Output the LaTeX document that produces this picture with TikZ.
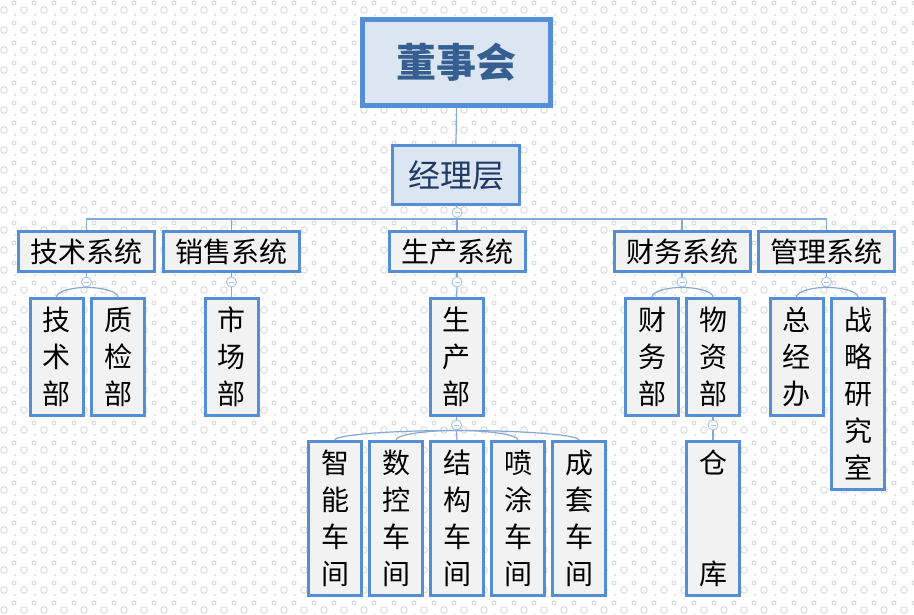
\documentclass[tikz,border=0pt]{standalone}
\usepackage{fontspec}
\usetikzlibrary{calc}
\setmainfont{Noto Sans CJK SC}
\definecolor{bord}{RGB}{85,142,213}
\definecolor{topfill}{RGB}{220,230,242}
\definecolor{boxfill}{RGB}{242,242,242}
\definecolor{conn}{RGB}{132,168,218}
\definecolor{knobc}{RGB}{170,195,232}
\definecolor{bgc}{RGB}{212,212,212}
\definecolor{toptext}{RGB}{54,95,145}
\definecolor{midtext}{RGB}{31,56,100}
\tikzset{
  topbox/.style={draw=bord, fill=topfill, line width=5pt, minimum width=188pt, minimum height=86pt, inner sep=0pt,
    text=toptext, font=\fontsize{40pt}{48pt}\selectfont\bfseries},
  midbox/.style={draw=bord, fill=topfill, line width=3pt, minimum width=127pt, minimum height=59pt, inner sep=0pt,
    text=midtext, font=\fontsize{32pt}{38pt}\selectfont},
  sysbox/.style={draw=bord, fill=boxfill, line width=3pt, minimum width=136pt, minimum height=40pt, inner sep=0pt,
    text=black, font=\fontsize{28pt}{34pt}\selectfont},
  vbox/.style={draw=bord, fill=boxfill, line width=3pt, minimum width=53pt, inner sep=0pt, align=center,
    text=black, font=\fontsize{28pt}{37pt}\selectfont},
  conline/.style={draw=conn, line width=1.2pt},
  knob/.style={circle, draw=knobc, fill=white, line width=0.9pt, minimum size=10pt, inner sep=0pt,
    path picture={\draw[knobc, line width=0.9pt] ([xshift=-2.5pt]path picture bounding box.center) -- ([xshift=2.5pt]path picture bounding box.center);}},
  bgring/.style={draw=bgc, line width=0.8pt}
}
% arch from knob #1 to child #2
\newcommand{\archto}[2]{%
  \draw[conline] (#1.south) .. controls ($(#1.south)!0.55!(#2.north |- #1.south)$) and ($(#2.north)+(0,-5)$) .. (#2.north);}
\begin{document}
\begin{tikzpicture}[x=1pt,y=-1pt]
\useasboundingbox (0,0) rectangle (914,615);
\fill[white] (0,0) rectangle (914,615);
\begin{scope}
\clip (0,0) rectangle (914,615);
\foreach \i in {0,...,46} {
  \foreach \j in {0,...,31} {
    \draw[bgring] (\i*20+4,\j*20+10) circle (3.3);
    \draw[bgring] (\i*20+14,\j*20+3) circle (2);
    \fill[bgc] (\i*20+15,\j*20+15) circle (1);
  }
}
\end{scope}

% nodes
\node[topbox] (dsh) at (456.5,62.5) {董事会};
\node[midbox] (jlc) at (456,175) {经理层};

\node[sysbox] (s1) at (86.5,251.5) {技术系统};
\node[sysbox] (s2) at (231.5,251.5) {销售系统};
\node[sysbox] (s3) at (457,251.5) {生产系统};
\node[sysbox] (s4) at (682,251.5) {财务系统};
\node[sysbox] (s5) at (826.5,251.5) {管理系统};

\node[vbox, minimum height=117pt] (d1) at (56.5,357) {技\\术\\部};
\node[vbox, minimum height=117pt] (d2) at (118,357) {质\\检\\部};
\node[vbox, minimum height=117pt] (d3) at (231.5,357) {市\\场\\部};
\node[vbox, minimum height=117pt] (d4) at (456.5,357) {生\\产\\部};
\node[vbox, minimum height=117pt] (d5) at (652,357) {财\\务\\部};
\node[vbox, minimum height=117pt] (d6) at (713,357) {物\\资\\部};
\node[vbox, minimum height=117pt] (d7) at (796.5,357) {总\\经\\办};
\node[vbox, minimum height=191pt] (d8) at (858,394) {战\\略\\研\\究\\室};

\node[vbox, minimum height=154pt] (w1) at (335,518.5) {智\\能\\车\\间};
\node[vbox, minimum height=154pt] (w2) at (396,518.5) {数\\控\\车\\间};
\node[vbox, minimum height=154pt] (w3) at (457,518.5) {结\\构\\车\\间};
\node[vbox, minimum height=154pt] (w4) at (518,518.5) {喷\\涂\\车\\间};
\node[vbox, minimum height=154pt] (w5) at (579,518.5) {成\\套\\车\\间};
\node[vbox, minimum height=154pt] (ck) at (713,518.5) {仓\\~\\~\\库};

% knobs
\node[knob] (k0) at (457,212.5) {};
\node[knob] (k1) at (86.5,282) {};
\node[knob] (k2) at (231.5,282) {};
\node[knob] (k3) at (457,282) {};
\node[knob] (k4) at (682,282) {};
\node[knob] (k5) at (826.5,282) {};
\node[knob] (k6) at (456.5,425) {};
\node[knob] (k7) at (713,425) {};

\coordinate (bus) at (0,219);

% connectors
\draw[conline] (dsh.south) -- (jlc.north);
\draw[conline] (jlc.south) -- (k0.north);
\draw[conline] (k0.south) -- (k0 |- bus);
\draw[conline] (s1.north) -- (s1.north |- bus) -- (s5.north |- bus) -- (s5.north);
\draw[conline] (s2.north |- bus) -- (s2.north);
\draw[conline] (s3.north |- bus) -- (s3.north);
\draw[conline] (s4.north |- bus) -- (s4.north);

\draw[conline] (s1.south) -- (k1.north);
\draw[conline] (s2.south) -- (k2.north);
\draw[conline] (s3.south) -- (k3.north);
\draw[conline] (s4.south) -- (k4.north);
\draw[conline] (s5.south) -- (k5.north);

\archto{k1}{d1}
\archto{k1}{d2}
\draw[conline] (k2.south) -- (d3.north);
\draw[conline] (k3.south) -- (d4.north);
\archto{k4}{d5}
\archto{k4}{d6}
\archto{k5}{d7}
\archto{k5}{d8}

\draw[conline] (d4.south) -- (k6.north);
\draw[conline] (d6.south) -- (k7.north);
\archto{k6}{w1}
\archto{k6}{w2}
\draw[conline] (k6.south) -- (w3.north);
\archto{k6}{w4}
\archto{k6}{w5}
\draw[conline] (k7.south) -- (ck.north);
\end{tikzpicture}
\end{document}
